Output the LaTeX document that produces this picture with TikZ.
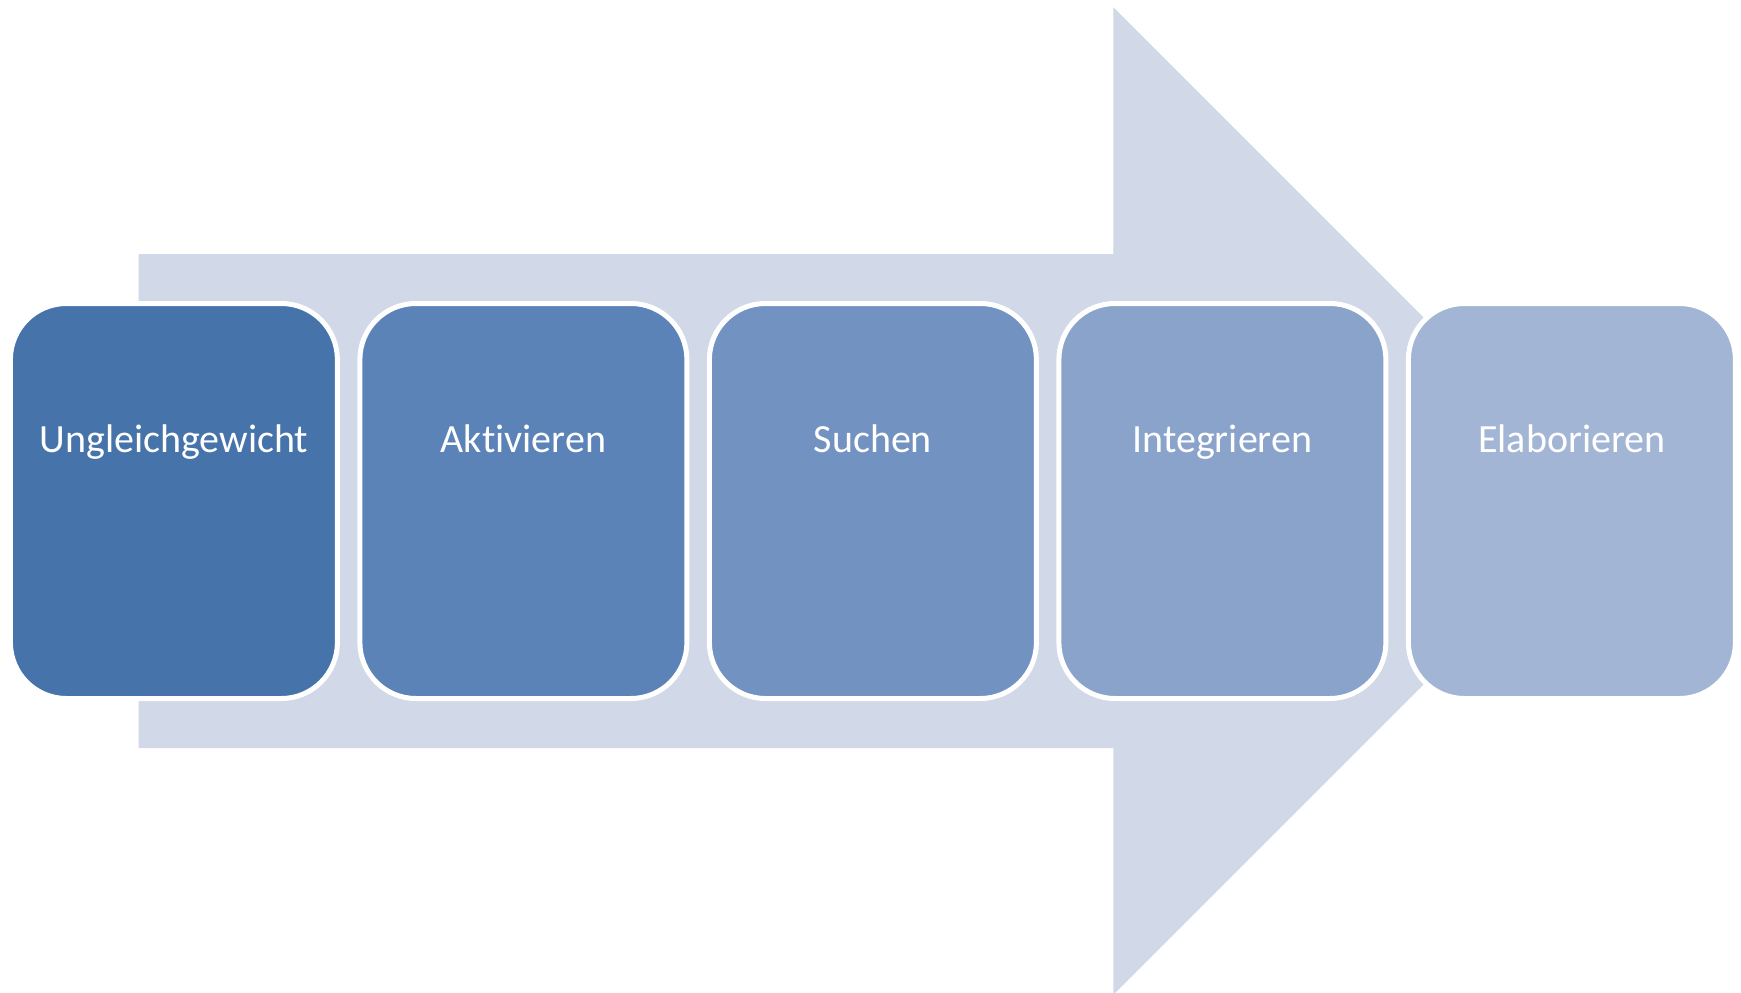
\documentclass[tikz,border=0pt]{standalone}
\usepackage{fontspec}
\setmainfont[Ligatures=NoCommon]{Carlito}
\definecolor{arrowc}{HTML}{D1D8E7}
\definecolor{cA}{HTML}{4674AA}
\definecolor{cB}{HTML}{5B83B8}
\definecolor{cC}{HTML}{7292C1}
\definecolor{cD}{HTML}{8AA3CA}
\definecolor{cE}{HTML}{A2B5D5}
\tikzset{
  stepbox/.style={draw=white, line width=5pt, rounded corners=56pt,
    minimum width=327pt, minimum height=395pt, inner sep=0pt},
  steplabel/.style={anchor=base, text=white, font=\fontsize{40}{48}\selectfont, inner sep=0pt}
}
\begin{document}
\begin{tikzpicture}[x=1pt,y=-1pt]
\useasboundingbox (0,0) rectangle (1741,993);
\clip (0,0) rectangle (1741,993);
\fill[white] (0,0) rectangle (1741,993);
% big arrow
\fill[arrowc] (138.7,254) -- (1113.3,254) -- (1113.3,7.3) -- (1607,501)
  -- (1113.3,994.7) -- (1113.3,748) -- (138.7,748) -- cycle;
% boxes
\node[stepbox, fill=cA] (b1) at (173.9,501) {};
\node[stepbox, fill=cB] (b2) at (523.4,501) {};
\node[stepbox, fill=cC] (b3) at (872.9,501) {};
\node[stepbox, fill=cD] (b4) at (1222.4,501) {};
\node[stepbox, fill=cE] (b5) at (1571.9,501) {};
% labels
\node[steplabel] (t1) at (173.9,452.7) {Ungleichgewicht};
\node[steplabel] (t2) at (523.4,452.7) {Aktivieren};
\node[steplabel] (t3) at (872.9,452.7) {Suchen};
\node[steplabel] (t4) at (1222.4,452.7) {Integrieren};
\node[steplabel] (t5) at (1571.9,452.7) {Elaborieren};
\end{tikzpicture}
\end{document}
